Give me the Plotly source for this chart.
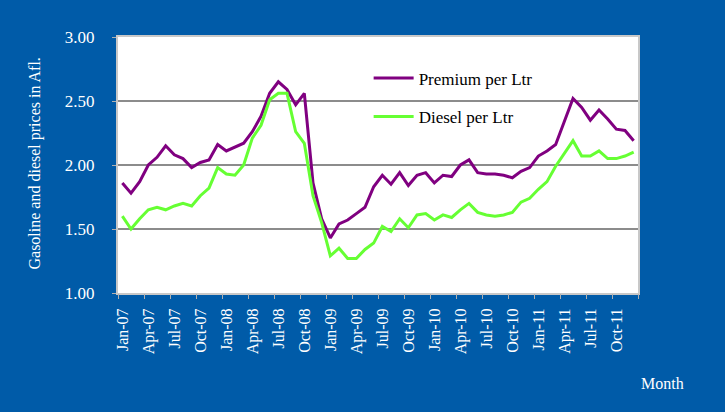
import plotly.graph_objects as go

months = ["Jan", "Feb", "Mar", "Apr", "May", "Jun", "Jul", "Aug", "Sep", "Oct", "Nov", "Dec"]
years = ["07", "08", "09", "10", "11"]
categories = [f"{m}-{y}" for y in years for m in months]

premium = [1.86, 1.78, 1.87, 2.00, 2.06, 2.15, 2.08, 2.05, 1.98, 2.02, 2.04, 2.16,
           2.11, 2.14, 2.17, 2.26, 2.38, 2.56, 2.65, 2.59, 2.47, 2.56, 1.86, 1.58,
           1.43, 1.54, 1.57, 1.62, 1.67, 1.83, 1.92, 1.85, 1.94, 1.84, 1.92, 1.94,
           1.86, 1.92, 1.91, 2.00, 2.04, 1.94, 1.93, 1.93, 1.92, 1.90, 1.95, 1.98,
           2.07, 2.11, 2.16, 2.34, 2.52, 2.45, 2.35, 2.43, 2.36, 2.28, 2.27, 2.19]

diesel = [1.60, 1.50, 1.58, 1.65, 1.67, 1.65, 1.68, 1.70, 1.68, 1.76, 1.82, 1.98,
          1.93, 1.92, 2.00, 2.21, 2.31, 2.51, 2.56, 2.56, 2.26, 2.17, 1.76, 1.55,
          1.29, 1.35, 1.27, 1.27, 1.34, 1.39, 1.52, 1.48, 1.58, 1.51, 1.61, 1.62,
          1.57, 1.61, 1.59, 1.65, 1.70, 1.63, 1.61, 1.60, 1.61, 1.63, 1.71, 1.74,
          1.81, 1.87, 1.99, 2.09, 2.19, 2.07, 2.07, 2.11, 2.05, 2.05, 2.07, 2.10]

y_ticks = [1.00, 1.50, 2.00, 2.50, 3.00]

idx = list(range(len(categories)))
label_idx = idx[::3]
label_text = [categories[i] for i in label_idx]
boundary_ticks = [i - 0.5 for i in range(0, len(categories) + 1, 3)]

BG = "#005BA8"
FONT = "Liberation Serif"

fig = go.Figure()
fig.add_trace(go.Scatter(x=idx, y=premium, mode="lines", name="Premium per Ltr",
                         line=dict(color="#800080", width=3), legend="legend"))
fig.add_trace(go.Scatter(x=idx, y=diesel, mode="lines", name="Diesel per Ltr",
                         line=dict(color="#66FF33", width=3), legend="legend2"))
# invisible helper trace for the tick-mark axis
fig.add_trace(go.Scatter(x=idx, y=diesel, mode="lines", xaxis="x2", showlegend=False,
                         hoverinfo="skip", line=dict(color="rgba(0,0,0,0)", width=0)))

fig.update_layout(
    width=725, height=412,
    margin=dict(l=118, r=87, t=37, b=119),
    paper_bgcolor=BG, plot_bgcolor="white",
    font=dict(family=FONT, color="white", size=15),
    xaxis=dict(range=[-0.5, 59.5], tickmode="array", tickvals=label_idx, ticktext=label_text,
               tickangle=-90, ticks="", showgrid=False, zeroline=False,
               showline=True, linecolor="#C8C8C8", linewidth=2, mirror=True,
               ticklabelstandoff=7, tickfont=dict(family=FONT, size=16, color="white")),
    xaxis2=dict(range=[-0.5, 59.5], overlaying="x", side="bottom", anchor="y",
                tickmode="array", tickvals=boundary_ticks, ticktext=[""] * len(boundary_ticks),
                ticks="outside", ticklen=5, tickcolor="#B0B0B0", tickwidth=1,
                showgrid=False, zeroline=False, showline=False, showticklabels=False),
    yaxis=dict(range=[1, 3], tickmode="array", tickvals=y_ticks,
               ticktext=[f"{v:.2f}" for v in y_ticks],
               showgrid=True, gridcolor="#8C8C8C", gridwidth=1.5, zeroline=False,
               showline=True, linecolor="#C8C8C8", linewidth=2, mirror=True,
               ticks="outside", ticklen=4, tickcolor="#B0B0B0", tickwidth=1,
               ticklabelstandoff=14,
               tickfont=dict(family=FONT, size=17, color="white")),
    legend=dict(x=0.482, y=0.908, xanchor="left", yanchor="top", bgcolor="rgba(0,0,0,0)",
                font=dict(family=FONT, size=17, color="black"), itemwidth=40),
    legend2=dict(x=0.482, y=0.758, xanchor="left", yanchor="top", bgcolor="rgba(0,0,0,0)",
                 font=dict(family=FONT, size=17, color="black"), itemwidth=40),
    annotations=[
        dict(text="Gasoline and diesel prices in Afl.", xref="paper", yref="paper",
             x=-0.160, y=0.505, xanchor="center", yanchor="middle", textangle=-90,
             showarrow=False, font=dict(family=FONT, size=16, color="white")),
        dict(text="Month", xref="paper", yref="paper", x=1.001, y=-0.355,
             xanchor="left", yanchor="middle", showarrow=False,
             font=dict(family=FONT, size=16, color="white")),
    ],
)

fig.write_html("out.html", config={"displayModeBar": False},
               post_script="document.body.style.margin='0';")
